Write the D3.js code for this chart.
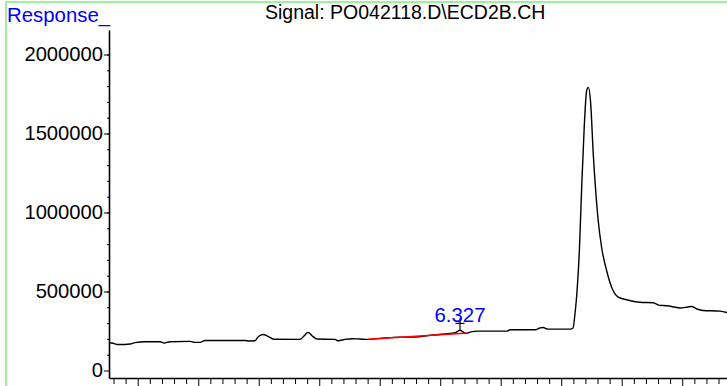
<!DOCTYPE html>
<html>
<head>
<meta charset="utf-8">
<script src="https://cdn.jsdelivr.net/npm/d3@7"></script>
<style>
  html, body { margin: 0; padding: 0; background: #fff; }
  svg { display: block; }
  text { font-family: "Liberation Sans", Arial, sans-serif; }
</style>
</head>
<body>
<svg id="chart" width="727" height="386"></svg>
<script>
// Detector signal: retention time (min) and response
const times = [0.525, 0.575, 0.657, 0.790, 0.872, 0.955, 1.120, 1.369, 1.435, 1.534,
  1.864, 1.947, 2.030, 2.112, 2.773, 2.840, 2.939, 2.988, 3.071, 3.154,
  3.250, 3.682, 3.748, 3.815, 3.881, 3.964, 4.261, 4.311, 4.427, 4.542,
  4.674, 4.806, 5.087, 5.335, 5.583, 5.831, 6.079, 6.195, 6.245, 6.327,
  6.393, 6.427, 6.492, 6.624, 7.104, 7.154, 7.567, 7.650, 7.699, 7.782,
  8.145, 8.195, 8.228, 8.261, 8.300, 8.338, 8.380, 8.420, 8.447, 8.487,
  8.529, 8.573, 8.611, 8.667, 8.750, 8.833, 8.943, 9.081, 9.301, 9.520,
  9.630, 9.742, 9.962, 10.094, 10.157, 10.245, 10.342, 10.625, 10.740];
const response = [176000, 174000, 165000, 165000, 168000, 176000, 182000, 182000, 174000, 182000,
  184000, 178000, 178000, 190000, 190000, 187000, 188000, 212000, 228000, 216000,
  198000, 197000, 218000, 241000, 220000, 199000, 197000, 188000, 197000, 201000,
  199000, 197000, 206000, 211000, 212000, 222000, 231000, 236000, 240000, 254000,
  240000, 234000, 243000, 249000, 249000, 258000, 258000, 269000, 272000, 262000,
  262000, 269000, 361000, 500000, 760000, 1159000, 1539000, 1771000, 1792000, 1689000,
  1373000, 1120000, 949000, 780000, 633000, 527000, 464000, 448000, 432000, 429000,
  412000, 410000, 396000, 402000, 405000, 389000, 380000, 376000, 367000];

// Integrated peak: retention time and its baseline end points
const peakTimes = [6.327];
const peakLabels = ["6.327"];
const baselineTimes = [4.806, 6.459];
const baselineValues = [197000, 237000];

// Axis ticks
const yMajorTicks = [0, 500000, 1000000, 1500000, 2000000];
const yMinorTicks = d3.range(1, 21).map(i => i * 100000);
const xTicks = d3.range(3, 54).map(i => i / 5);

const svg = d3.select("#chart");
const plotLeft = 109, plotRight = 727, plotTop = 30, plotBottom = 378;

const x = d3.scaleLinear().domain([0.525, 10.74]).range([plotLeft, plotRight]);
const y = d3.scaleLinear().domain([-47500, 2155000]).range([plotBottom, plotTop]);

// Frame
svg.append("path")
  .attr("d", "M6,400 L6,2 L740,2")
  .attr("fill", "none")
  .attr("stroke", "#9ef09e")
  .attr("stroke-width", 2);

// Header texts
svg.append("text").attr("x", 7).attr("y", 21.5)
  .attr("font-size", 20.4).attr("fill", "#0000ff").text("Response_");
svg.append("text").attr("x", 265).attr("y", 18.5)
  .attr("font-size", 19.5).attr("fill", "#000").text("Signal: PO042118.D\\ECD2B.CH");

// Y axis: minor ticks then labelled major ticks
svg.append("g").attr("transform", `translate(${plotLeft},0)`)
  .call(d3.axisLeft(y).tickValues(yMinorTicks).tickSize(2).tickFormat(""))
  .call(g => g.select(".domain").remove())
  .call(g => g.selectAll("line").attr("stroke", "#000").attr("stroke-width", 1));

svg.append("g").attr("transform", `translate(${plotLeft},0)`)
  .call(d3.axisLeft(y).tickValues(yMajorTicks).tickSize(5).tickPadding(1).tickSizeOuter(0).tickFormat(d3.format("d")))
  .call(g => g.select(".domain").attr("stroke", "#000").attr("stroke-width", 1.6))
  .call(g => g.selectAll("line").attr("stroke", "#000").attr("stroke-width", 1))
  .call(g => g.selectAll("text").attr("font-size", 20.2).attr("fill", "#000")
    .attr("font-family", "'Liberation Sans', Arial, sans-serif"));

// X axis: ticks every 0.2 min, longer on whole minutes
const xAxis = svg.append("g").attr("transform", `translate(0,${plotBottom})`)
  .call(d3.axisBottom(x).tickValues(xTicks).tickSizeOuter(0).tickFormat(""))
  .call(g => g.select(".domain").attr("stroke", "#000").attr("stroke-width", 1.6));
xAxis.selectAll(".tick line")
  .attr("stroke", "#000").attr("stroke-width", 1)
  .attr("y2", d => Math.abs(d - Math.round(d)) < 1e-6 ? 10 : 6);

// Signal trace
const pts = times.map((t, i) => [t, response[i]]);
const line = d3.line().x(d => x(d[0])).y(d => y(d[1]));
svg.append("path").datum(pts)
  .attr("d", line.curve(d3.curveMonotoneX)(pts))
  .attr("fill", "none")
  .attr("stroke", "#000")
  .attr("stroke-width", 1.4)
  .attr("stroke-linejoin", "round");

// Integration baseline
const baseLine = d3.line().x(d => x(d[0])).y(d => y(d[1]));
svg.append("path").datum(baselineTimes.map((t, i) => [t, baselineValues[i]]))
  .attr("d", baseLine)
  .attr("fill", "none")
  .attr("stroke", "#ff0000")
  .attr("stroke-width", 1.5);

// Peak apex markers and retention time labels
peakTimes.forEach((t, k) => {
  const apex = response[times.indexOf(t)];
  const px = x(t), py = y(apex);
  const g = svg.append("g").attr("stroke", "#000").attr("stroke-width", 1.2);
  g.append("line").attr("x1", px).attr("x2", px).attr("y1", py - 12).attr("y2", py);
  g.append("line").attr("x1", px - 4.5).attr("x2", px + 4.5).attr("y1", py - 7).attr("y2", py - 7);
  svg.append("text")
    .attr("x", px).attr("y", py - 8.5)
    .attr("text-anchor", "middle")
    .attr("font-size", 20.4)
    .attr("fill", "#0000ff")
    .text(peakLabels[k]);
});
</script>
</body>
</html>
